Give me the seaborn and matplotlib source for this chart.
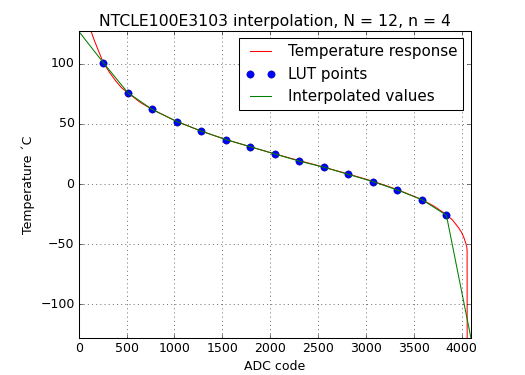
"""
NTC thermistor lookup table: response curve, LUT points and linear interpolation
"""

import matplotlib
matplotlib.use("Agg")
import matplotlib.pyplot as plt
import seaborn as sns

# temperature response of the divider
resp_adc = [100, 125, 160, 200, 256, 320, 384, 448, 512, 640, 768, 1024, 1280,
            1536, 1792, 2048, 2304, 2560, 2816, 3072, 3328, 3584, 3712, 3840,
            3904, 3968, 4000, 4020, 4035, 4045, 4052, 4056, 4057]
resp_temp = [135, 128, 120, 112, 101, 93, 86, 80, 76, 68, 62, 52, 44,
             37, 31, 25, 19.5, 14, 8.3, 2.3, -4.6, -13, -18.5, -25.5,
             -30, -36.5, -40.5, -44, -47.5, -50, -52, -55, -140]

# LUT entries, N = 12 bit ADC, n = 4 -> 16 steps
lut_adc = [256, 512, 768, 1024, 1280, 1536, 1792, 2048, 2304, 2560, 2816,
           3072, 3328, 3584, 3840]
lut_temp = [101, 76, 62, 52, 44, 37, 31, 25, 19, 14, 8, 2, -5, -13, -26]

# interpolated values incl. the table end points
interp_adc = [0] + lut_adc + [4096]
interp_temp = [127] + lut_temp + [-128]

labels = ["Temperature response", "LUT points", "Interpolated values"]

plt.style.use("classic")
fig, ax = plt.subplots(figsize=(7, 5), dpi=75)
fig.subplots_adjust(left=0.150, right=0.897, bottom=0.099, top=0.918)

sns.lineplot(x=resp_adc, y=resp_temp, color="r", sort=False, estimator=None, ax=ax)
sns.lineplot(x=lut_adc, y=lut_temp, color="b", marker="o", linestyle="",
             markersize=7, markeredgecolor="#000080", markeredgewidth=0.5,
             sort=False, estimator=None, ax=ax)
sns.lineplot(x=interp_adc, y=interp_temp, color="g", sort=False, estimator=None, ax=ax)

ax.set_xlim(0, 4096)
ax.set_ylim(-128, 127.5)
ax.set_xticks(range(0, 4001, 500))
ax.set_yticks([-100, -50, 0, 50, 100])
ax.grid(True)
ax.set_title("NTCLE100E3103 interpolation, N = 12, n = 4", fontsize=15)
ax.set_xlabel("ADC code", fontsize=12)
ax.set_ylabel("Temperature \u00b4C", fontsize=12)
ax.tick_params(labelsize=12)
ax.legend(ax.get_lines()[:3], labels, loc="upper right", numpoints=2, fontsize=14.5)

fig.savefig("out.png", dpi=75)
